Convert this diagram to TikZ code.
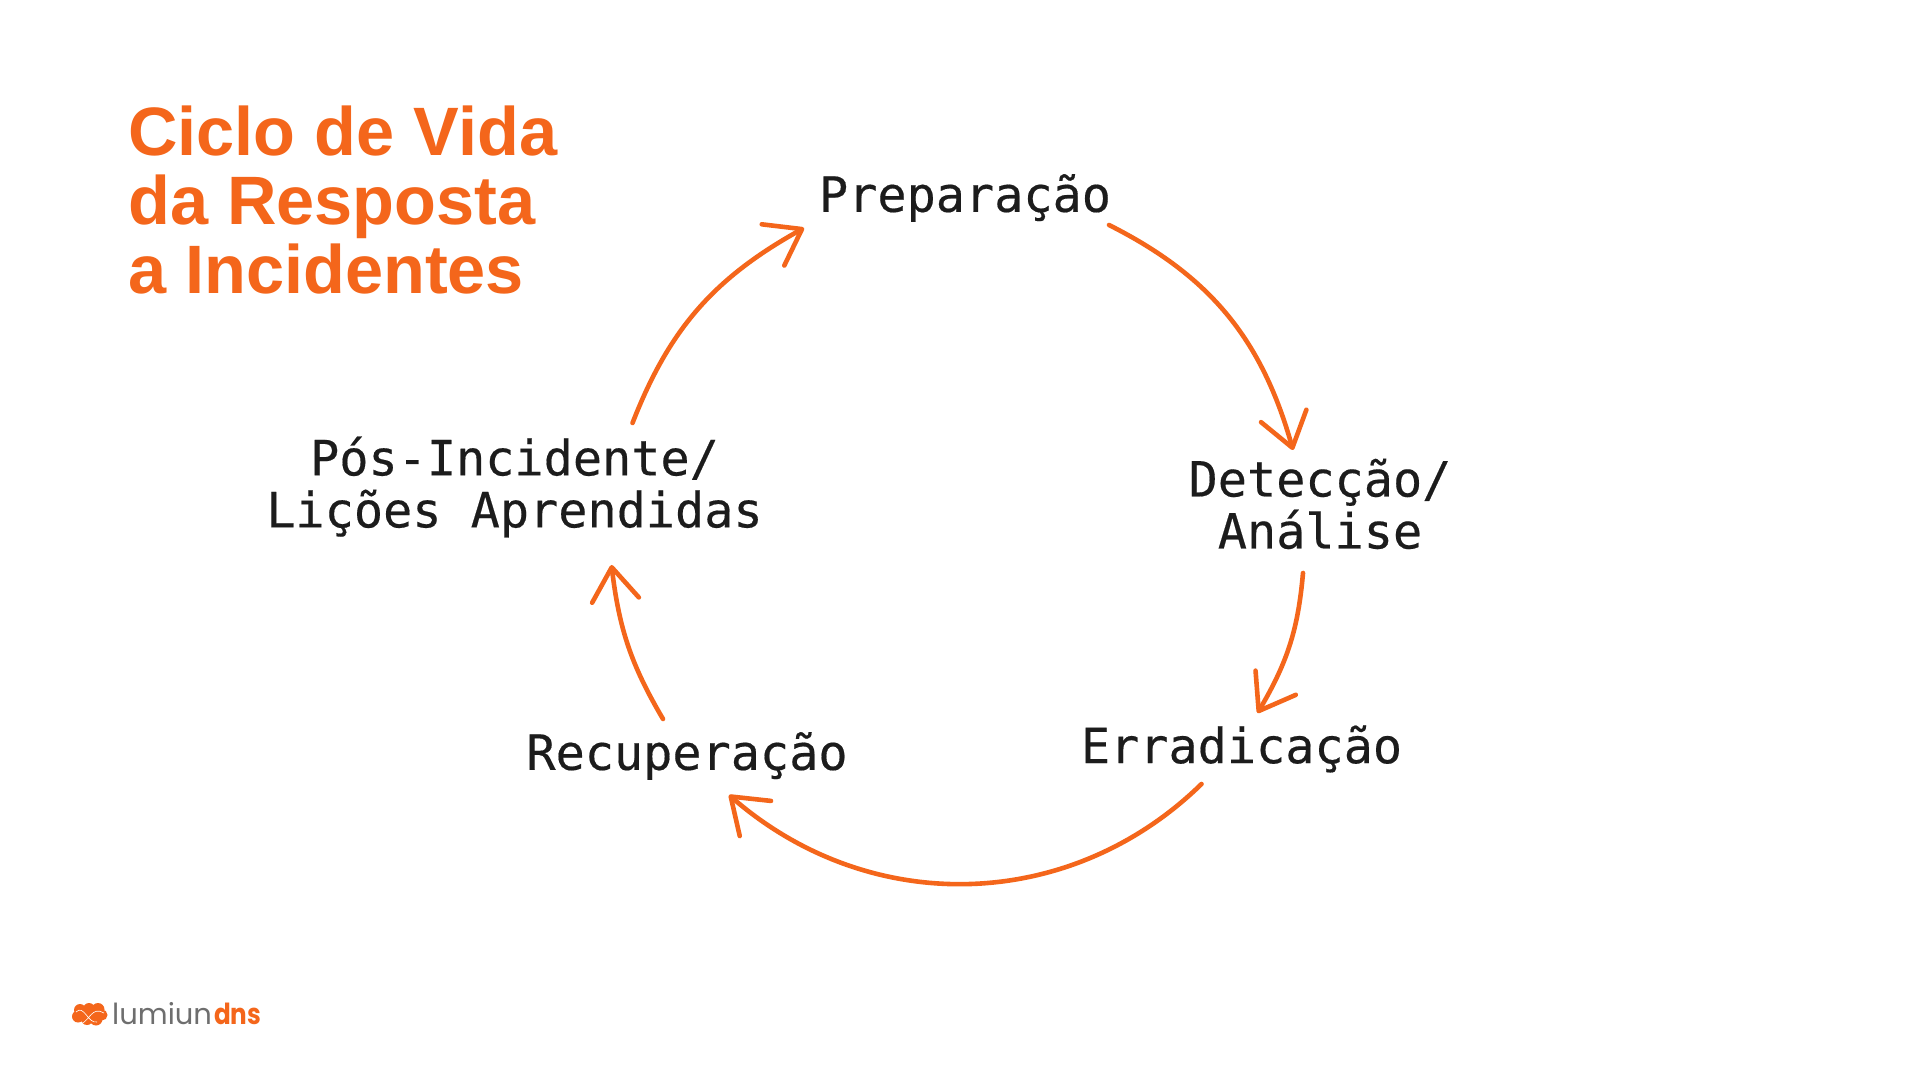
\documentclass[tikz,border=0pt]{standalone}
\usepackage{fontspec}
\setmainfont{Liberation Sans}
\newfontfamily\monof[FakeBold=0.35]{DejaVu Sans Mono}
\newfontfamily\popf{Poppins}
\usetikzlibrary{arrows.meta,bending}
\definecolor{lorange}{HTML}{F4661B}
\definecolor{ink}{HTML}{1C1C1C}
\definecolor{lgray}{HTML}{6E6E6E}
\tikzset{
  x=1pt,y=1pt,
  stage/.style={font=\monof\fontsize{48.5}{52}\selectfont,text=ink,align=center,inner sep=0pt},
  cyc/.style={draw=lorange,line width=4.6pt,line cap=round,line join=round,
    -{Straight Barb[length=33pt,width=47pt,line width=4.6pt,round]}},
  logotext/.style={inner sep=0pt,anchor=base west},
}
\begin{document}
\begin{tikzpicture}
\useasboundingbox (0,0) rectangle (1920,1080);
\fill[white] (0,0) rectangle (1920,1080);
\node[anchor=north west,inner sep=0pt,text=lorange,font=\bfseries\fontsize{68.5}{69}\selectfont,align=left] (title) at (128,1080-106)
 {Ciclo de Vida\\da Resposta\\a Incidentes};
\node[stage] (prep) at (965,1080-198) {Preparação};
\node[stage] (det) at (1320,1080-504) {Detecção/\\Análise};
\node[stage] (err) at (1241.5,1080-749) {Erradicação};
\node[stage] (rec) at (687,1080-756) {Recuperação};
\node[stage] (pos) at (514.5,1080-487) {Pós-Incidente/\\Lições Aprendidas};
\draw[cyc] ([shift={(144,-27)}]prep.center) to[bend left=24] ([shift={(-27,54)}]det.center);
\draw[cyc] ([shift={(-17,-69)}]det.center) to[bend left=13] ([shift={(16,36)}]err.center);
\draw[cyc] ([shift={(-40,-35)}]err.center) to[bend left=43] ([shift={(42,-39)}]rec.center);
\draw[cyc] ([shift={(-24,37)}]rec.center) to[bend left=12] ([shift={(97,-78)}]pos.center);
\draw[cyc] ([shift={(118,64)}]pos.center) to[bend left=20] ([shift={(-161,-30)}]prep.center);
% logo
\fill[lorange] (80,1080-1010) circle (6) (89,1080-1009) circle (6) (98,1080-1009.5) circle (6.5)
  (78,1080-1016.5) circle (6) (87,1080-1019) circle (6) (96,1080-1019) circle (6.5) (102,1080-1015) circle (5.5);
\draw[white,line width=0.6pt] (76,1080-1012) .. controls (84,1080-1004) and (88,1080-1024) .. (97,1080-1022)
  (81,1080-1024) .. controls (90,1080-1020) and (92,1080-1006) .. (104,1080-1013);
\node[logotext,text=lgray,font=\popf\fontsize{29}{30}\selectfont] (lum) at (112,1080-1024) {lumiun};
\node[logotext,text=lorange,xscale=0.85,font=\popf\bfseries\fontsize{29}{30}\selectfont] (dns) at (214,1080-1024) {dns};
\end{tikzpicture}
\end{document}
